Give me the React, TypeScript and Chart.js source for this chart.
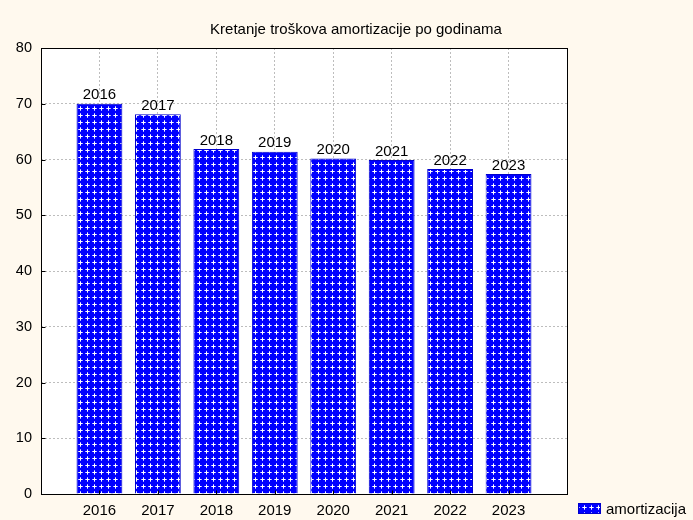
import React, { useEffect, useRef } from "react";
import { Chart, registerables } from "chart.js";

Chart.register(...registerables);

const title = "Kretanje troškova amortizacije po godinama";
const seriesName = "amortizacija";
const years = ["2016", "2017", "2018", "2019", "2020", "2021", "2022", "2023"];
const values = [70.0, 68.1, 61.9, 61.4, 60.2, 59.9, 58.3, 57.4];
const yTicks = [0, 10, 20, 30, 40, 50, 60, 70, 80];

const FONT = "Arial, 'Liberation Sans', sans-serif";
const BG = "#fff9ee";

function makePattern(): CanvasPattern | string {
  const c = document.createElement("canvas");
  c.width = 7;
  c.height = 7;
  const g = c.getContext("2d");
  if (!g) return "#0000ff";
  g.fillStyle = "#0000ff";
  g.fillRect(0, 0, 7, 7);
  g.fillStyle = "#b0b0ff";
  g.fillRect(1, 3, 5, 1);
  g.fillRect(3, 1, 1, 5);
  g.fillStyle = "#ffffff";
  g.fillRect(2, 3, 3, 1);
  g.fillRect(3, 2, 1, 3);
  const p = g.createPattern(c, "repeat");
  return p || "#0000ff";
}

export default function App() {
  const ref = useRef<HTMLCanvasElement>(null);
  useEffect(() => {
    document.body.style.margin = "0";
    const canvas = ref.current;
    if (!canvas) return;
    const pattern = makePattern();

    const decor = {
      id: "decor",
      beforeDraw(chart: any) {
        const { ctx, chartArea: a } = chart;
        ctx.save();
        ctx.fillStyle = BG;
        ctx.fillRect(0, 0, chart.width, chart.height);
        ctx.fillStyle = "#ffffff";
        ctx.fillRect(a.left, a.top, a.right - a.left, a.bottom - a.top);
        ctx.restore();
      },
      afterDatasetsDraw(chart: any) {
        const { ctx } = chart;
        const meta = chart.getDatasetMeta(0);
        ctx.save();
        ctx.fillStyle = "#000";
        ctx.font = `15px ${FONT}`;
        ctx.textAlign = "center";
        ctx.textBaseline = "bottom";
        meta.data.forEach((el: any, i: number) => {
          ctx.fillText(years[i], el.x, el.y - 1);
        });
        ctx.restore();
      },
      afterDraw(chart: any) {
        const { ctx, chartArea: a, scales } = chart;
        ctx.save();
        ctx.strokeStyle = "#000";
        ctx.lineWidth = 1;
        const L = Math.round(a.left) + 0.5;
        const R = Math.round(a.right) + 0.5;
        const T = Math.round(a.top) + 0.5;
        const B = Math.round(a.bottom) + 0.5;
        ctx.strokeRect(L, T, R - L, B - T);
        ctx.beginPath();
        yTicks.forEach((v) => {
          const y = Math.round(scales.y.getPixelForValue(v)) + 0.5;
          ctx.moveTo(L, y);
          ctx.lineTo(L + 4, y);
        });
        years.forEach((yr) => {
          const x = Math.round(scales.x.getPixelForValue(Number(yr))) + 0.5;
          ctx.moveTo(x, B);
          ctx.lineTo(x, B - 4);
        });
        ctx.stroke();

        ctx.fillStyle = "#000";
        ctx.font = `15px ${FONT}`;
        ctx.textAlign = "center";
        ctx.textBaseline = "middle";
        ctx.fillText(title, 356, 30);

        ctx.fillStyle = pattern as any;
        ctx.fillRect(578, 503, 23, 11);
        ctx.strokeStyle = "#0000cc";
        ctx.strokeRect(578.5, 503.5, 22, 10);
        ctx.fillStyle = "#000";
        ctx.font = `15px ${FONT}`;
        ctx.textAlign = "left";
        ctx.fillText(seriesName, 606, 510);
        ctx.restore();
      },
    };

    const chart = new Chart(canvas, {
      type: "bar",
      data: {
        datasets: [
          {
            label: seriesName,
            data: years.map((yr, i) => ({ x: Number(yr), y: values[i] })),
            backgroundColor: pattern as any,
            borderColor: "#0000cc",
            borderWidth: 1,
            barPercentage: 0.98,
            categoryPercentage: 0.8,
          },
        ],
      },
      options: {
        animation: false,
        responsive: true,
        maintainAspectRatio: false,
        layout: { padding: { top: 48, right: 126, bottom: 0, left: 0 } },
        plugins: {
          legend: { display: false },
          title: { display: false },
          tooltip: { enabled: false },
        },
        scales: {
          x: {
            type: "linear",
            min: 2015,
            max: 2024,
            offset: false,
            afterBuildTicks: (s: any) => {
              s.ticks = years.map((yr) => ({ value: Number(yr) }));
            },
            afterFit: (s: any) => {
              s.height = 26;
            },
            ticks: {
              callback: (v: any) => String(v),
              color: "#000",
              font: { family: FONT, size: 15 },
              padding: 8,
              maxRotation: 0,
              autoSkip: false,
            },
            grid: { color: "#bdbdbd", drawTicks: false, offset: false },
            border: { display: false, dash: [2, 2] },
          },
          y: {
            min: 0,
            max: 80,
            afterBuildTicks: (s: any) => {
              s.ticks = yTicks.map((v) => ({ value: v }));
            },
            afterFit: (s: any) => {
              s.width = 41;
            },
            ticks: {
              color: "#000",
              font: { family: FONT, size: 14.5 },
              padding: 9,
            },
            grid: { color: "#bdbdbd", drawTicks: false },
            border: { display: false, dash: [2, 2] },
          },
        },
      },
      plugins: [decor],
    });
    return () => chart.destroy();
  }, []);
  return (
    <div style={{ position: "relative", width: 693, height: 520 }}>
      <canvas ref={ref} />
    </div>
  );
}
